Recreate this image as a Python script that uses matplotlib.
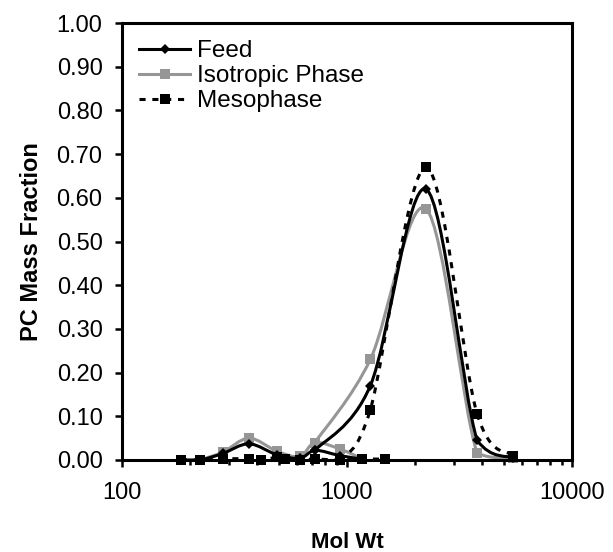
import numpy as np
import matplotlib
matplotlib.use("Agg")
import matplotlib.pyplot as plt
from matplotlib.path import Path
from matplotlib.patches import PathPatch
from matplotlib.lines import Line2D
from matplotlib.ticker import FixedLocator, LogLocator, NullFormatter, FuncFormatter

plt.rcParams['font.family'] = ['Liberation Sans', 'DejaVu Sans']

# ---- data ----
feed_low_x = [183, 222, 281, 367, 488, 618, 721, 931, 1166]
feed_low_y = [0.0, 0.0, 0.015, 0.037, 0.012, 0.004, 0.022, 0.010, 0.002]
feed_high_x = [721, 1270, 2245, 3790, 5470]
feed_high_y = [0.022, 0.17, 0.62, 0.045, 0.005]

iso_low_x = [222, 281, 367, 488, 618, 721, 931, 1166]
iso_low_y = [0.0, 0.018, 0.05, 0.02, 0.008, 0.04, 0.025, 0.003]
iso_high_x = [721, 1270, 2245, 3790, 5470]
iso_high_y = [0.04, 0.23, 0.575, 0.016, 0.005]

meso_low_x = [183, 222, 281, 367, 415, 488, 530, 618, 721, 931, 1166, 1475]
meso_low_y = [0.0, 0.0, 0.003, 0.002, 0.0, 0.006, 0.003, 0.0, 0.002, 0.0, 0.002, 0.002]
meso_high_x = [931, 1270, 2245, 3790, 5470]
meso_high_y = [0.0, 0.115, 0.67, 0.105, 0.01]

y_ticks = [0.0, 0.1, 0.2, 0.3, 0.4, 0.5, 0.6, 0.7, 0.8, 0.9, 1.0]
x_ticks = [100, 1000, 10000]

GRAY = '#969696'
FS = 17


def smooth_path(xs, ys):
    lx = np.log10(np.asarray(xs, float))
    y = np.asarray(ys, float)
    n = len(lx)
    verts = [(10 ** lx[0], y[0])]
    codes = [Path.MOVETO]
    for i in range(n - 1):
        p0 = (lx[i - 1], y[i - 1]) if i > 0 else (lx[i], y[i])
        p1 = (lx[i], y[i])
        p2 = (lx[i + 1], y[i + 1])
        p3 = (lx[i + 2], y[i + 2]) if i + 2 < n else (lx[i + 1], y[i + 1])
        c1 = (p1[0] + (p2[0] - p0[0]) / 6.0, max(0.0, p1[1] + (p2[1] - p0[1]) / 6.0))
        c2 = (p2[0] - (p3[0] - p1[0]) / 6.0, max(0.0, p2[1] - (p3[1] - p1[1]) / 6.0))
        for c in (c1, c2, p2):
            verts.append((10 ** c[0], c[1]))
            codes.append(Path.CURVE4)
    return Path(verts, codes)


fig = plt.figure(figsize=(6.13, 5.52), dpi=100)
ax = fig.add_axes([0.199, 0.1667, 0.734, 0.7915])
ax.set_xscale('log')
ax.set_xlim(100, 10000)
ax.set_ylim(0, 1.0)

series = [
    (iso_low_x, iso_low_y, iso_high_x, iso_high_y, GRAY, '-', 's', GRAY, 6.5, 2),
    (meso_low_x, meso_low_y, meso_high_x, meso_high_y, 'black', (0, (2.0, 2.2)), 's', 'black', 6.5, 3),
    (feed_low_x, feed_low_y, feed_high_x, feed_high_y, 'black', '-', 'D', 'black', 5.5, 4),
]
for lxs, lys, hxs, hys, col, ls, mk, mc, ms, z in series:
    for xs, ys in ((lxs, lys), (hxs, hys)):
        patch = PathPatch(smooth_path(xs, ys), facecolor='none', edgecolor=col,
                          lw=2.2, linestyle=ls, zorder=z, capstyle='butt')
        ax.add_patch(patch)
        ax.plot(xs, ys, linestyle='none', marker=mk, color=mc, markersize=ms,
                markeredgewidth=0, zorder=z + 0.5, clip_on=False)

handles = [
    Line2D([], [], color='black', lw=2.2, marker='D', markersize=5.5, markeredgewidth=0),
    Line2D([], [], color=GRAY, lw=2.2, marker='s', markersize=6.5, markeredgewidth=0),
    Line2D([], [], color='black', lw=2.2, linestyle=(0, (2.0, 2.2)), marker='s', markersize=6.5, markeredgewidth=0),
]
ax.legend(handles, ['Feed', 'Isotropic Phase', 'Mesophase'], loc='upper left',
          bbox_to_anchor=(0.0, 1.0), frameon=False, fontsize=FS + 0.5,
          handlelength=2.1, handletextpad=0.3, labelspacing=0.13, borderaxespad=0.3)

ax.yaxis.set_major_locator(FixedLocator(y_ticks))
ax.yaxis.set_major_formatter(FuncFormatter(lambda v, p: f'{v:.2f}'))
ax.xaxis.set_major_locator(FixedLocator(x_ticks))
ax.xaxis.set_major_formatter(FuncFormatter(lambda v, p: f'{int(v)}'))
ax.xaxis.set_minor_locator(LogLocator(base=10, subs=np.arange(2, 10)))
ax.xaxis.set_minor_formatter(NullFormatter())

ax.tick_params(axis='y', direction='out', length=5, width=1.8, labelsize=FS, pad=9,
               right=False)
ax.tick_params(axis='x', which='major', direction='out', length=5, width=1.8,
               labelsize=FS, pad=11, top=False)
ax.tick_params(axis='x', which='minor', direction='out', length=3.5, width=1.8, top=False)
for s in ax.spines.values():
    s.set_linewidth(2.2)

ax.set_xlabel('Mol Wt', fontsize=16, fontweight='bold', labelpad=20)
ax.set_ylabel('PC Mass Fraction', fontsize=FS, fontweight='bold', labelpad=10)

fig.savefig('out.png', dpi=100)
